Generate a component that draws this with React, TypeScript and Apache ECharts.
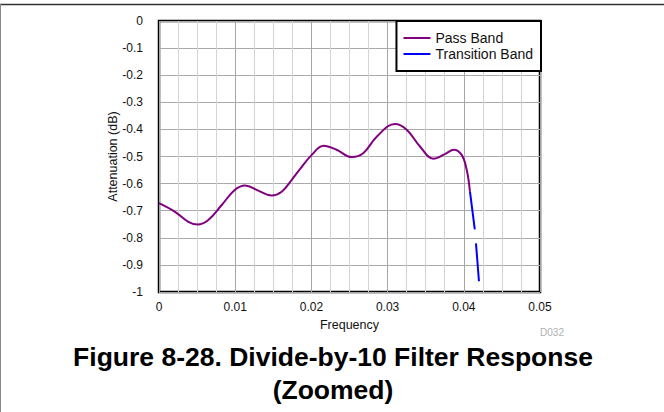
import React, { useEffect, useRef } from "react";
import * as echarts from "echarts";

const passFreq = [0, 0.0021, 0.00385, 0.00508, 0.00647, 0.00823, 0.00997, 0.01129, 0.01303, 0.01479, 0.0161, 0.01742, 0.0185, 0.02004, 0.0216, 0.0233, 0.02529, 0.0268, 0.0286, 0.03097, 0.0325, 0.03425, 0.036, 0.03753, 0.03871, 0.03972, 0.04038, 0.04081];
const passVal = [-0.672, -0.704, -0.741, -0.751, -0.734, -0.679, -0.623, -0.607, -0.626, -0.644, -0.63, -0.586, -0.547, -0.494, -0.46, -0.475, -0.502, -0.488, -0.426, -0.38, -0.401, -0.463, -0.508, -0.491, -0.475, -0.494, -0.549, -0.63];
const transFreq = [0.04081, 0.04147, 0.042, 0.04225];
const transVal = [-0.63, -0.775, -0.964, -1.05];
const seriesNames = ["Pass Band", "Transition Band"];
const titleLines = ["Figure 8-28. Divide-by-10 Filter Response", "(Zoomed)"];

const FONT = "'Liberation Sans', Arial, sans-serif";

export default function App() {
  const ref = useRef<HTMLDivElement>(null);
  useEffect(() => {
    if (!ref.current) return;
    const chart = echarts.init(ref.current, undefined, { renderer: "svg" });
    const pass = passFreq.map((f, i) => [f, passVal[i]]);
    const trans = transFreq.map((f, i) => [f, transVal[i]]);
    chart.setOption({
      animation: false,
      backgroundColor: "#ffffff",
      textStyle: { fontFamily: FONT },
      grid: {
        left: 159,
        right: 124,
        top: 21,
        bottom: 120,
        show: true,
        borderColor: "#000",
        borderWidth: 2.5,
        backgroundColor: "transparent",
      },
      legend: {
        orient: "vertical",
        right: 123,
        top: 21,
        backgroundColor: "#fff",
        borderColor: "#000",
        borderWidth: 2,
        borderRadius: 0,
        padding: [10, 8, 10, 7],
        itemWidth: 27,
        itemHeight: 2,
        itemGap: 2,
        textStyle: { fontFamily: FONT, fontSize: 14, color: "#111", lineHeight: 14 },
        data: [
          { name: seriesNames[0], icon: "rect", itemStyle: { color: "#800080" } },
          { name: seriesNames[1], icon: "rect", itemStyle: { color: "#0000ff" } },
        ],
      },
      xAxis: {
        type: "value",
        min: 0,
        max: 0.05,
        interval: 0.01,
        name: "Frequency",
        nameLocation: "middle",
        nameGap: 26,
        nameMoveOverlap: false,
        nameTextStyle: { fontFamily: FONT, fontSize: 12.5, color: "#111" },
        axisLine: { show: false },
        axisTick: { show: false },
        axisLabel: {
          margin: 9,
          fontFamily: FONT,
          fontSize: 12,
          color: "#111",
          formatter: (v: number) => (v === 0 ? "0" : v.toFixed(2)),
        },
        splitLine: { show: true, lineStyle: { color: "#a6a6a6", width: 1 } },
        minorTick: { show: false, splitNumber: 4 },
        minorSplitLine: { show: true, lineStyle: { color: "#d4d4d4", width: 1 } },
      },
      yAxis: {
        type: "value",
        min: -1,
        max: 0,
        interval: 0.1,
        name: "Attenuation (dB)",
        nameLocation: "middle",
        nameGap: 40,
        nameMoveOverlap: false,
        nameTextStyle: { fontFamily: FONT, fontSize: 12.5, color: "#111" },
        axisLine: { show: false },
        axisTick: { show: false },
        axisLabel: {
          margin: 16,
          fontFamily: FONT,
          fontSize: 12,
          color: "#111",
          formatter: (v: number) => {
            const r = Math.round(v * 10) / 10;
            if (r === 0) return "0";
            if (r === -1) return "-1";
            return r.toFixed(1);
          },
        },
        splitLine: { show: true, lineStyle: { color: "#aaaaaa", width: 1 } },
      },
      series: [
        {
          name: seriesNames[0],
          type: "line",
          data: pass,
          smooth: 0.4,
          symbol: "none",
          lineStyle: { color: "#800080", width: 2 },
          itemStyle: { color: "#800080" },
          z: 3,
        },
        {
          name: seriesNames[1],
          type: "line",
          data: trans,
          smooth: false,
          symbol: "none",
          clip: true,
          lineStyle: { color: "#0000ff", width: 2, type: [38, 14] },
          itemStyle: { color: "#0000ff" },
          z: 3,
        },
      ],
      graphic: [
        { type: "line", shape: { x1: 0, y1: 4.5, x2: 664, y2: 4.5 }, style: { stroke: "#333", lineWidth: 1.5 } },
        { type: "line", shape: { x1: 0.5, y1: 4, x2: 0.5, y2: 412 }, style: { stroke: "#888", lineWidth: 1 } },
        { type: "text", x: 552, y: 332, style: { text: "D032", fill: "#b0b0b0", font: `10px ${FONT}`, textAlign: "center", textVerticalAlign: "middle" } },
        { type: "text", x: 333, y: 357, style: { text: titleLines[0], fill: "#000", font: `bold 26.5px ${FONT}`, textAlign: "center", textVerticalAlign: "middle" } },
        { type: "text", x: 333, y: 390, style: { text: titleLines[1], fill: "#000", font: `bold 26.5px ${FONT}`, textAlign: "center", textVerticalAlign: "middle" } },
      ],
    });
    return () => chart.dispose();
  }, []);
  return <div ref={ref} style={{ position: "fixed", left: 0, top: 0, width: 664, height: 412 }} />;
}
